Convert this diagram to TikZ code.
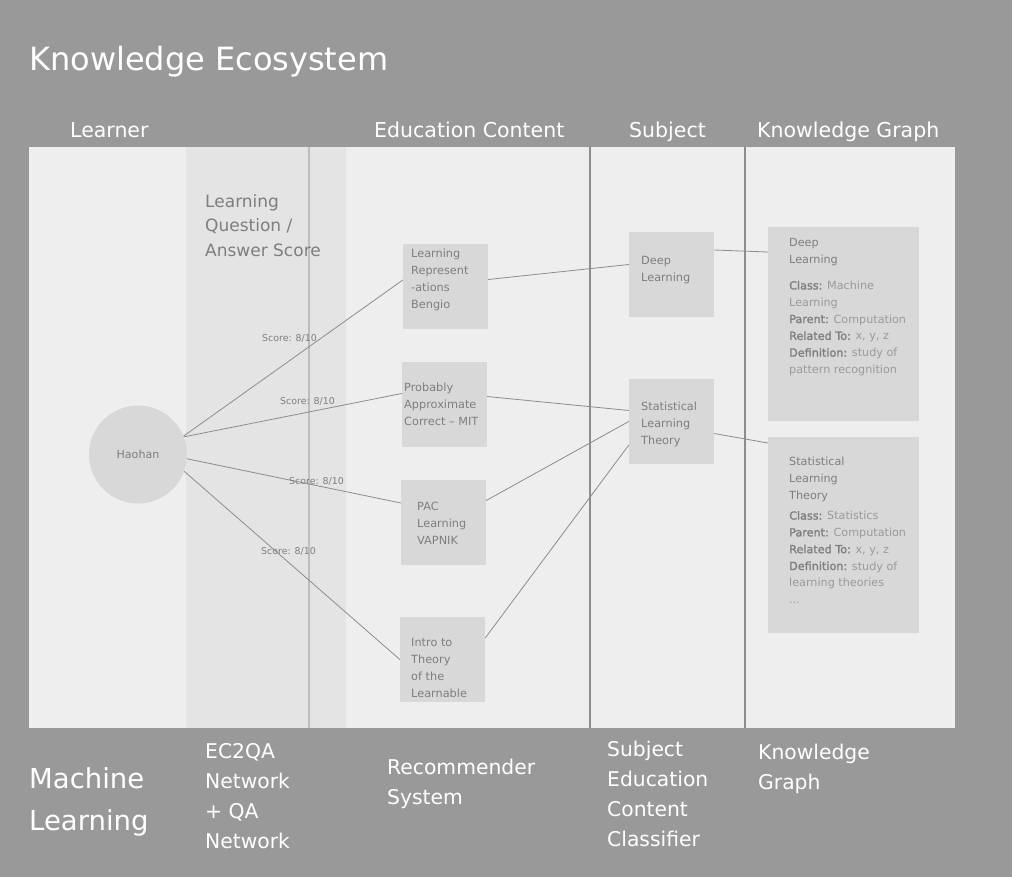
\documentclass[tikz,border=0pt]{standalone}
\usepackage{fontspec}
\setmainfont{DejaVu Sans}
\newfontfamily\kgbold[FakeBold=1.5]{DejaVu Sans}
\usepackage{tikz}
\definecolor{backgray}{HTML}{999999}
\definecolor{panelgray}{HTML}{EEEEEE}
\definecolor{bandgray}{HTML}{E4E4E4}
\definecolor{bandline}{HTML}{BDBDBD}
\definecolor{boxgray}{HTML}{D8D8D8}
\definecolor{textgray}{HTML}{7E7E7E}
\definecolor{valgray}{HTML}{9A9A9A}
\definecolor{linegray}{HTML}{8C8C8C}
\newcommand{\kgkey}[1]{{\color{textgray}\kgbold #1}}
\tikzstyle{box}=[fill=boxgray,inner sep=0pt,minimum width=85pt,minimum height=85pt]
\tikzstyle{kgbox}=[fill=boxgray,inner sep=0pt,minimum width=151pt]
\tikzstyle{boxtext}=[anchor=north west,inner sep=0pt,align=left,text=textgray,font=\fontsize{11.3}{17}\selectfont]
\tikzstyle{kgtext}=[anchor=north west,inner sep=0pt,align=left,text=valgray,font=\fontsize{11.2}{16.8}\selectfont]
\tikzstyle{score}=[anchor=west,inner sep=0pt,text=textgray,font=\fontsize{9.4}{11}\selectfont]
\tikzstyle{header}=[anchor=base west,inner sep=0pt,text=white,font=\fontsize{20.5}{25}\selectfont]
\tikzstyle{footer}=[anchor=north west,inner sep=0pt,align=left,text=white,font=\fontsize{20.3}{30}\selectfont]
\tikzstyle{link}=[draw=linegray,line width=0.8pt]
\begin{document}
\begin{tikzpicture}[x=1pt,y=-1pt]
  % background and panels
  \fill[backgray] (0,0) rectangle (1012,877);
  \useasboundingbox (0,0) rectangle (1012,877);
  \fill[panelgray] (29,147) rectangle (955,728);
  \fill[bandgray] (186,147) rectangle (346,728);
  \draw[bandline,line width=1.6pt] (309,147) -- (309,728);
  \draw[linegray,line width=1.3pt] (590,147) -- (590,728);
  \draw[linegray,line width=1.3pt] (745,147) -- (745,728);
  % titles
  \node[anchor=base west,inner sep=0pt,text=white,font=\fontsize{32}{38}\selectfont] (title) at (29,71) {Knowledge Ecosystem};
  \node[header] (hlearner) at (70,138) {Learner};
  \node[header] (hcontent) at (374,138) {Education Content};
  \node[header] (hsubject) at (629,138) {Subject};
  \node[header] (hgraph) at (757,138) {Knowledge Graph};
  \node[anchor=north west,inner sep=0pt,align=left,text=textgray,font=\fontsize{17}{24.5}\selectfont] (qascore) at (205,194) {Learning\\Question /\\Answer Score};
  % learner
  \node[circle,fill=boxgray,minimum size=98pt,inner sep=0pt,text=textgray,font=\fontsize{11.1}{13}\selectfont] (haohan) at (138,454.5) {Haohan};
  % education content
  \node[box] (lrbox) at (445.5,286.5) {};
  \node[boxtext] (lr) at (411,249) {Learning\\Represent\\-ations\\Bengio};
  \node[box] (pacmitbox) at (444.5,404.5) {};
  \node[boxtext] (pacmit) at (404,383) {Probably\\Approximate\\Correct -- MIT};
  \node[box] (paclbox) at (443.5,522.5) {};
  \node[boxtext] (pacl) at (417,502) {PAC\\Learning\\VAPNIK};
  \node[box] (introbox) at (442.5,659.5) {};
  \node[boxtext] (intro) at (411,638) {Intro to\\Theory\\of the\\Learnable};
  % subjects
  \node[box] (dlbox) at (671.5,274.5) {};
  \node[boxtext] (dl) at (641,256) {Deep\\Learning};
  \node[box] (sltbox) at (671.5,421.5) {};
  \node[boxtext] (slt) at (641,402) {Statistical\\Learning\\Theory};
  % knowledge graph
  \node[kgbox,minimum height=194pt] (kgdlbox) at (843.5,324) {};
  \node[kgtext] (kgdl) at (789,238) {{\color{textgray}Deep}\\{\color{textgray}Learning}\\[9.5pt]\kgkey{Class:} Machine\\Learning\\\kgkey{Parent:} Computation\\\kgkey{Related To:} x, y, z\\\kgkey{Definition:} study of\\pattern recognition};
  \node[kgbox,minimum height=196pt] (kgsltbox) at (843.5,535) {};
  \node[kgtext] (kgslt) at (789,457) {{\color{textgray}Statistical}\\{\color{textgray}Learning}\\{\color{textgray}Theory}\\[3.5pt]\kgkey{Class:} Statistics\\\kgkey{Parent:} Computation\\\kgkey{Related To:} x, y, z\\\kgkey{Definition:} study of\\learning theories\\...};
  % links
  \draw[link] (haohan.22) -- ([yshift=6.5pt]lrbox.west);
  \draw[link] (haohan.21) -- ([yshift=11pt]pacmitbox.west);
  \draw[link] (haohan.-5) -- ([yshift=19.5pt]paclbox.west);
  \draw[link] (haohan.-20) -- (introbox.west);
  \draw[link] ([yshift=7pt]lrbox.east) -- ([yshift=10pt]dlbox.west);
  \draw[link] ([yshift=8pt]pacmitbox.east) -- ([yshift=11pt]sltbox.west);
  \draw[link] ([yshift=22pt]paclbox.east) -- (sltbox.west);
  \draw[link] ([yshift=21.5pt]introbox.east) -- ([yshift=-23.5pt]sltbox.west);
  \draw[link] ([yshift=24.5pt]dlbox.east) -- ([yshift=72pt]kgdlbox.west);
  \draw[link] ([yshift=-12pt]sltbox.east) -- ([yshift=92pt]kgsltbox.west);
  % scores
  \node[score] (score1) at (262,338) {Score: 8/10};
  \node[score] (score2) at (280,401) {Score: 8/10};
  \node[score] (score3) at (289,481) {Score: 8/10};
  \node[score] (score4) at (261,551) {Score: 8/10};
  % footers
  \node[anchor=north west,inner sep=0pt,align=left,text=white,font=\fontsize{27.5}{42}\selectfont] (fml) at (29,767) {Machine\\Learning};
  \node[footer] (fnet) at (205,743) {EC2QA\\Network\\+ QA\\Network};
  \node[footer] (frec) at (387,759) {Recommender\\System};
  \node[footer] (fcls) at (607,741) {Subject\\Education\\Content\\Classifier};
  \node[footer] (fkg) at (758,744) {Knowledge\\Graph};
\end{tikzpicture}
\end{document}
